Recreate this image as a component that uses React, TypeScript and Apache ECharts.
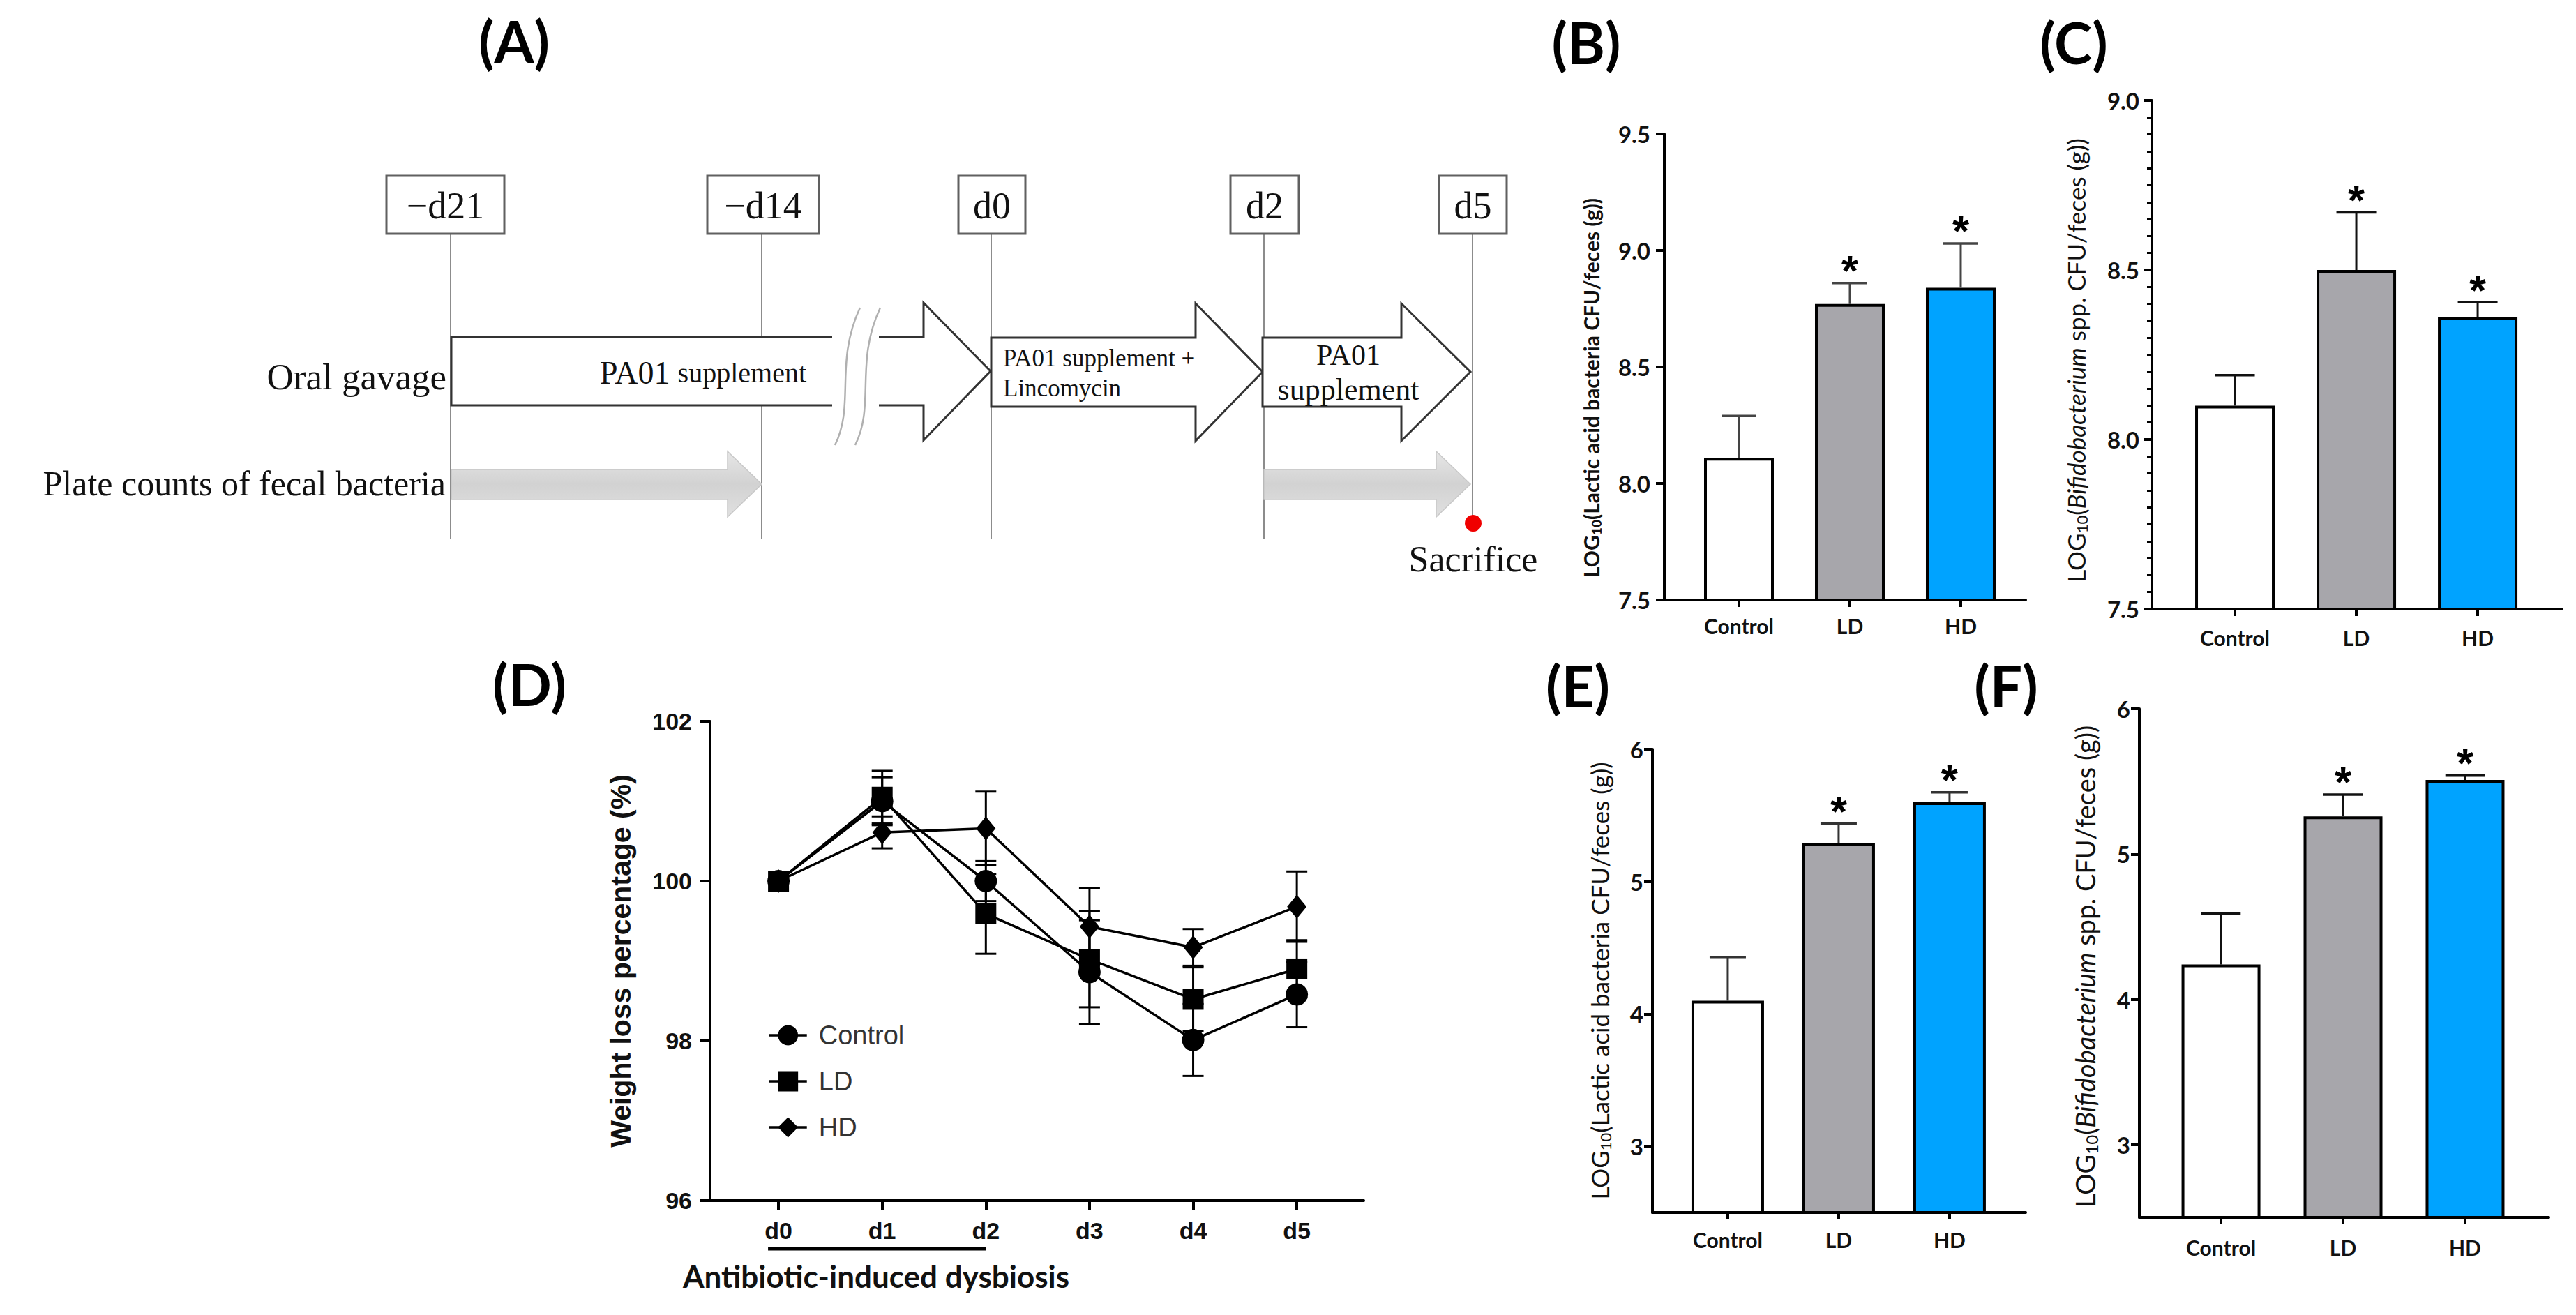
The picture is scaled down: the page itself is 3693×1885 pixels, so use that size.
import React, { useEffect, useRef } from "react";
import * as echarts from "echarts";

// ---------- data ----------
const groups = ["Control", "LD", "HD"];
const barColors = ["#ffffff", "#a7a6ab", "#00a3ff"];
const significant = [false, true, true];

const lacticFecesMean = [8.11, 8.77, 8.84];
const lacticFecesErr = [0.18, 0.09, 0.19];
const bifidoFecesMean = [8.1, 8.5, 8.36];
const bifidoFecesErr = [0.09, 0.17, 0.045];
const lacticEMean = [4.1, 5.29, 5.6];
const lacticEErr = [0.33, 0.15, 0.075];
const bifidoFMean = [4.24, 5.26, 5.51];
const bifidoFErr = [0.35, 0.15, 0.03];

const days = ["d0", "d1", "d2", "d3", "d4", "d5"];
const weightControl = [100, 101.0, 100.0, 98.86, 98.01, 98.58];
const weightControlErr = [0, 0.3, 0.25, 0.65, 0.45, 0.41];
const weightLD = [100, 101.05, 99.59, 99.02, 98.52, 98.9];
const weightLDErr = [0, 0.33, 0.5, 0.6, 0.4, 0.36];
const weightHD = [100, 100.61, 100.66, 99.43, 99.17, 99.68];
const weightHDErr = [0, 0.2, 0.46, 0.48, 0.23, 0.44];

const timelineLabels = ["−d21", "−d14", "d0", "d2", "d5"];

// ---------- fonts ----------
const SERIF = "'Liberation Serif', 'DejaVu Serif', serif";
const SANS = "Lato, 'Open Sans', sans-serif";
const ARIAL = "'Liberation Sans', Arial, sans-serif";

type BarPanel = {
  left: number; top: number; width: number; height: number;
  xMin: number; xMax: number; yMin: number; yMax: number;
  interval?: number; yTicks?: number[]; minor?: boolean; decimals: number;
  mean: number[]; err: number[]; barWidth: number;
  name: string; rich: any; nameGap: number; namePad: number;
  yLabelMargin: number; xLabelMargin: number; errColor: string; name2: string;
};

const makeRich = (size: number, weight: string) => ({
  n: { fontFamily: SANS, fontWeight: weight, fontSize: size, color: "#111", lineHeight: size + 4 },
  s: { fontFamily: SANS, fontWeight: weight, fontSize: Math.round(size * 0.62), color: "#111", verticalAlign: "bottom", lineHeight: Math.round(size * 0.62) },
  i: { fontFamily: SANS, fontWeight: weight, fontStyle: "italic", fontSize: size, color: "#111", lineHeight: size + 4 },
});

const panels: BarPanel[] = [
  {
    left: 2386, top: 192, width: 518, height: 668, xMin: 0.327, xMax: 3.585,
    yMin: 7.5, yMax: 9.5, interval: 0.5, decimals: 1,
    mean: lacticFecesMean, err: lacticFecesErr, barWidth: 100,
    name: "{n|LOG}{s|10}{n|(Lactic acid bacteria CFU/feces (g))}", rich: makeRich(30, "bold"), nameGap: 88, namePad: 60,
    yLabelMargin: 20, xLabelMargin: 22, errColor: "#444", name2: "B",
  },
  {
    left: 3085, top: 144, width: 588, height: 729, xMin: 0.316, xMax: 3.695,
    yMin: 7.5, yMax: 9.0, interval: 0.5, minor: true, decimals: 1,
    mean: bifidoFecesMean, err: bifidoFecesErr, barWidth: 114,
    name: "{n|LOG}{s|10}{n|(}{i|Bifidobacterium}{n| spp. CFU/feces (g))}", rich: makeRich(35, "normal"), nameGap: 90, namePad: 16,
    yLabelMargin: 18, xLabelMargin: 26, errColor: "#111", name2: "C",
  },
  {
    left: 2369, top: 1074, width: 535, height: 664, xMin: 0.321, xMax: 3.686,
    yMin: 2.5, yMax: 6, yTicks: [3, 4, 5, 6], decimals: 0,
    mean: lacticEMean, err: lacticEErr, barWidth: 104,
    name: "{n|LOG}{s|10}{n|(Lactic acid bacteria CFU/feces (g))}", rich: makeRich(35, "normal"), nameGap: 57, namePad: 0,
    yLabelMargin: 13, xLabelMargin: 24, errColor: "#333", name2: "E",
  },
  {
    left: 3067, top: 1016, width: 587, height: 729, xMin: 0.331, xMax: 3.686,
    yMin: 2.5, yMax: 6, yTicks: [3, 4, 5, 6], decimals: 0,
    mean: bifidoFMean, err: bifidoFErr, barWidth: 113,
    name: "{n|LOG}{s|10}{n|(}{i|Bifidobacterium}{n| spp. CFU/feces (g))}", rich: makeRich(38, "normal"), nameGap: 57, namePad: 10,
    yLabelMargin: 13, xLabelMargin: 28, errColor: "#111", name2: "F",
  },
];

// D layout
const D = { left: 1018, top: 1034, width: 937, height: 687, xMin: -0.66, xMax: 5.645 };
const dUnit = D.width / (D.xMax - D.xMin);
const dX = (v: number) => D.left + (v - D.xMin) * dUnit;

function buildOption() {
  const grid: any[] = [];
  const xAxis: any[] = [];
  const yAxis: any[] = [];
  const series: any[] = [];

  panels.forEach((p, g) => {
    grid.push({ left: p.left, top: p.top, width: p.width, height: p.height, containLabel: false });
    xAxis.push({
      type: "value", gridIndex: g, min: p.xMin, max: p.xMax,
      axisLine: { show: true, onZero: false, lineStyle: { color: "#000", width: 4 } },
      axisTick: { show: true, customValues: [1, 2, 3], length: 10, lineStyle: { color: "#000", width: 4 } },
      axisLabel: {
        show: true, customValues: [1, 2, 3],
        formatter: (v: number) => groups[Math.round(v) - 1] ?? "",
        fontFamily: SANS, fontWeight: "bold", fontSize: 30, color: "#111", margin: p.xLabelMargin,
      },
      splitLine: { show: false },
    });
    const yTick: any = { show: true, length: 12, lineStyle: { color: "#000", width: 4 } };
    const yLab: any = {
      show: true, fontFamily: SANS, fontWeight: "bold", fontSize: 33, color: "#111", margin: p.yLabelMargin,
      formatter: (v: number) => v.toFixed(p.decimals),
    };
    if (p.yTicks) { yTick.customValues = p.yTicks; yLab.customValues = p.yTicks; }
    const ya: any = {
      type: "value", gridIndex: g, min: p.yMin, max: p.yMax,
      axisLine: { show: true, onZero: false, lineStyle: { color: "#000", width: 4 } },
      axisTick: yTick, axisLabel: yLab, splitLine: { show: false },
      name: p.name, nameLocation: "middle", nameGap: p.nameGap, nameRotate: 90,
      nameTextStyle: { rich: p.rich, padding: [0, p.namePad, 0, 0] },
    };
    if (p.interval) ya.interval = p.interval;
    if (p.minor) ya.minorTick = { show: true, splitNumber: 10, length: 7, lineStyle: { color: "#000", width: 3 } };
    yAxis.push(ya);

    series.push({
      type: "bar", name: "bars-" + p.name2, xAxisIndex: g, yAxisIndex: g, barWidth: p.barWidth, clip: true,
      data: p.mean.map((v, i) => ({ value: [i + 1, v], itemStyle: { color: barColors[i] } })),
      itemStyle: { borderColor: "#000", borderWidth: 4 }, silent: true,
    });
    const capW = p.barWidth / 2;
    series.push({
      type: "custom", name: "err-" + p.name2, xAxisIndex: g, yAxisIndex: g, silent: true, z: 5,
      data: p.mean.map((v, i) => [i + 1, v, v + p.err[i], significant[i] ? 1 : 0]),
      encode: { x: 0, y: 2 },
      renderItem: (_params: any, api: any) => {
        const x = api.value(0), m = api.value(1), t = api.value(2), s = api.value(3);
        const p0 = api.coord([x, m]);
        const p1 = api.coord([x, t]);
        const children: any[] = [
          { type: "line", shape: { x1: p0[0], y1: p0[1], x2: p1[0], y2: p1[1] }, style: { stroke: p.errColor, lineWidth: 3 } },
          { type: "line", shape: { x1: p1[0] - capW / 2, y1: p1[1], x2: p1[0] + capW / 2, y2: p1[1] }, style: { stroke: p.errColor, lineWidth: 3.5 } },
        ];
        if (s) {
          children.push({
            type: "text", x: p1[0], y: p1[1] - 18,
            style: { text: "*", fontFamily: ARIAL, fontWeight: "bold", fontSize: 62, fill: "#000", align: "center", verticalAlign: "middle" },
          });
        }
        return { type: "group", children };
      },
    });
  });

  // ---------- D: line chart ----------
  const gD = panels.length;
  grid.push({ left: D.left, top: D.top, width: D.width, height: D.height, containLabel: false });
  xAxis.push({
    type: "value", gridIndex: gD, min: D.xMin, max: D.xMax,
    axisLine: { show: true, onZero: false, lineStyle: { color: "#000", width: 4 } },
    axisTick: { show: true, customValues: [0, 1, 2, 3, 4, 5], length: 14, lineStyle: { color: "#000", width: 4 } },
    axisLabel: {
      show: true, customValues: [0, 1, 2, 3, 4, 5], formatter: (v: number) => days[Math.round(v)] ?? "",
      fontFamily: ARIAL, fontWeight: "bold", fontSize: 34, color: "#111", margin: 26,
    },
    splitLine: { show: false },
  });
  yAxis.push({
    type: "value", gridIndex: gD, min: 96, max: 102, interval: 2,
    axisLine: { show: true, onZero: false, lineStyle: { color: "#000", width: 4 } },
    axisTick: { show: true, length: 14, lineStyle: { color: "#000", width: 4 } },
    axisLabel: { fontFamily: ARIAL, fontWeight: "bold", fontSize: 34, color: "#111", margin: 26 },
    splitLine: { show: false },
    name: "Weight loss percentage (%)", nameLocation: "middle", nameGap: 108, nameRotate: 90,
    nameTextStyle: { fontFamily: ARIAL, fontWeight: "bold", fontSize: 41, color: "#111" },
  });

  const lineSets = [
    { name: "Control", vals: weightControl, err: weightControlErr, symbol: "circle", size: 32 },
    { name: "LD", vals: weightLD, err: weightLDErr, symbol: "rect", size: 30 },
    { name: "HD", vals: weightHD, err: weightHDErr, symbol: "diamond", size: [28, 34] },
  ];
  lineSets.forEach((ls) => {
    series.push({
      type: "custom", name: "err-" + ls.name, xAxisIndex: gD, yAxisIndex: gD, silent: true, z: 3,
      data: ls.vals.map((v, i) => [i, v - ls.err[i], v + ls.err[i]]),
      encode: { x: 0, y: [1, 2] },
      renderItem: (_params: any, api: any) => {
        const x = api.value(0);
        const lo = api.coord([x, api.value(1)]);
        const hi = api.coord([x, api.value(2)]);
        const c = 15;
        return {
          type: "group",
          children: [
            { type: "line", shape: { x1: lo[0], y1: lo[1], x2: hi[0], y2: hi[1] }, style: { stroke: "#000", lineWidth: 3 } },
            { type: "line", shape: { x1: lo[0] - c, y1: lo[1], x2: lo[0] + c, y2: lo[1] }, style: { stroke: "#000", lineWidth: 3 } },
            { type: "line", shape: { x1: hi[0] - c, y1: hi[1], x2: hi[0] + c, y2: hi[1] }, style: { stroke: "#000", lineWidth: 3 } },
          ],
        };
      },
    });
    series.push({
      type: "line", name: ls.name, xAxisIndex: gD, yAxisIndex: gD, z: 4,
      data: ls.vals.map((v, i) => [i, v]),
      symbol: ls.symbol, symbolSize: ls.size, showSymbol: true,
      lineStyle: { color: "#000", width: 3.5 }, itemStyle: { color: "#000" },
    });
  });

  // ---------- graphics: panel A timeline + labels ----------
  const g: any[] = [];
  const boxes = [
    { x0: 554, x1: 723 }, { x0: 1014, x1: 1174 }, { x0: 1374, x1: 1470 }, { x0: 1764, x1: 1862 }, { x0: 2063, x1: 2160 },
  ];
  const lineX = [646, 1092, 1421, 1812, 2111];
  lineX.forEach((x, i) => {
    g.push({ type: "line", shape: { x1: x, y1: 335, x2: x, y2: i === 4 ? 752 : 772 }, style: { stroke: "#8c8c8c", lineWidth: 2 }, z: 1 });
  });
  const grayArrow = (x0: number, hx: number, tip: number) => ({
    type: "polygon", z: 2,
    shape: { points: [[x0, 673], [hx, 673], [hx, 647], [tip, 694], [hx, 741], [hx, 716], [x0, 716]] },
    style: {
      fill: new echarts.graphic.LinearGradient(0, 0, 0, 1, [
        { offset: 0, color: "#e6e6e6" }, { offset: 0.5, color: "#d2d2d2" }, { offset: 1, color: "#e0e0e0" },
      ]),
      stroke: "#c8c8c8", lineWidth: 1.5,
    },
  });
  g.push(grayArrow(647, 1043, 1092));
  g.push(grayArrow(1812, 2059, 2108));
  g.push({ type: "polygon", z: 2, shape: { points: [[647, 483], [1324, 483], [1324, 434], [1420, 532], [1324, 631], [1324, 581], [647, 581]] }, style: { fill: "#fff", stroke: null } });
  g.push({ type: "polyline", z: 3, shape: { points: [[1193, 483], [647, 483], [647, 581], [1193, 581]] }, style: { stroke: "#333", lineWidth: 3, fill: null } });
  g.push({ type: "polyline", z: 3, shape: { points: [[1260, 483], [1324, 483], [1324, 434], [1420, 532], [1324, 631], [1324, 581], [1260, 581]] }, style: { stroke: "#333", lineWidth: 3, fill: null } });
  g.push({ type: "bezierCurve", z: 3, shape: { x1: 1233, y1: 441, cpx1: 1196, cpy1: 520, cpx2: 1226, cpy2: 580, x2: 1197, y2: 638 }, style: { stroke: "#b0b0b0", lineWidth: 2.5, fill: null } });
  g.push({ type: "bezierCurve", z: 3, shape: { x1: 1262, y1: 441, cpx1: 1225, cpy1: 520, cpx2: 1255, cpy2: 580, x2: 1226, y2: 638 }, style: { stroke: "#b0b0b0", lineWidth: 2.5, fill: null } });
  const whiteArrow = (x0: number, hx: number, tip: number) => ({
    type: "polygon", z: 3,
    shape: { points: [[x0, 484], [hx, 484], [hx, 435], [tip, 533], [hx, 632], [hx, 583], [x0, 583]] },
    style: { fill: "#fff", stroke: "#333", lineWidth: 3 },
  });
  g.push(whiteArrow(1421, 1714, 1810));
  g.push(whiteArrow(1810, 2009, 2108));
  boxes.forEach((b, i) => {
    g.push({ type: "rect", z: 4, shape: { x: b.x0, y: 252, width: b.x1 - b.x0, height: 83 }, style: { fill: "#fff", stroke: "#606060", lineWidth: 3 } });
    g.push({ type: "text", z: 5, x: (b.x0 + b.x1) / 2, y: 295, style: { text: timelineLabels[i], fontFamily: SERIF, fontSize: 54, fill: "#111", align: "center", verticalAlign: "middle" } });
  });
  g.push({ type: "circle", z: 5, shape: { cx: 2112, cy: 750, r: 12 }, style: { fill: "#f00000" } });
  const t = (x: number, y: number, text: string, size: number, extra: any = {}) => ({
    type: "text", z: 6, x, y,
    style: Object.assign({ text, fontFamily: SERIF, fontSize: size, fill: "#111", align: "center", verticalAlign: "middle" }, extra),
  });
  g.push(t(640, 540, "Oral gavage", 53, { align: "right" }));
  g.push(t(639, 693, "Plate counts of fecal bacteria", 50, { align: "right" }));
  g.push(t(2112, 801, "Sacrifice", 52));
  g.push(t(1008, 534, "{a|PA01} {b|supplement}", 44, {
    rich: { a: { fontFamily: SERIF, fontSize: 46, fill: "#111" }, b: { fontFamily: SERIF, fontSize: 40, fill: "#111" } },
  }));
  g.push(t(1438, 513, "PA01 supplement +", 35, { align: "left" }));
  g.push(t(1438, 556, "Lincomycin", 35, { align: "left" }));
  g.push(t(1933, 509, "PA01", 42));
  g.push(t(1933, 558, "supplement", 44));
  const letter = (x: number, y: number, s: string) => ({
    type: "text", z: 6, x, y,
    style: { text: s, fontFamily: SANS, fontWeight: "bold", fontSize: 82, fill: "#000", align: "center", verticalAlign: "middle" },
  });
  g.push(letter(737, 58, "(A)"));
  g.push(letter(2274, 60, "(B)"));
  g.push(letter(2973, 60, "(C)"));
  g.push(letter(759, 980, "(D)"));
  g.push(letter(2262, 982, "(E)"));
  g.push(letter(2876, 982, "(F)"));
  g.push({ type: "line", z: 6, shape: { x1: dX(0) - 15, y1: 1790, x2: dX(2), y2: 1790 }, style: { stroke: "#000", lineWidth: 5 } });
  g.push({ type: "text", z: 6, x: 1256, y: 1829, style: { text: "Antibiotic-induced dysbiosis", fontFamily: SANS, fontWeight: "bold", fontSize: 44, fill: "#111", align: "center", verticalAlign: "middle" } });

  return {
    animation: false,
    backgroundColor: "#ffffff",
    grid, xAxis, yAxis, series,
    legend: {
      data: ["Control", "LD", "HD"], orient: "vertical", left: 1096, top: 1460,
      itemWidth: 54, itemHeight: 36, itemGap: 28,
      textStyle: { fontFamily: ARIAL, fontSize: 38, color: "#333", padding: [0, 0, 0, 12] },
      itemStyle: { color: "#000" }, lineStyle: { color: "#000", width: 3.5 },
    },
    graphic: g,
  };
}

export default function App() {
  const ref = useRef<HTMLDivElement>(null);
  useEffect(() => {
    if (!ref.current) return;
    const chart = echarts.init(ref.current, undefined, { renderer: "svg" });
    chart.setOption(buildOption() as any);
    return () => chart.dispose();
  }, []);
  return (
    <div
      ref={ref}
      style={{ position: "absolute", left: 0, top: 0, width: 3693, height: 1885, background: "#fff" }}
    />
  );
}
